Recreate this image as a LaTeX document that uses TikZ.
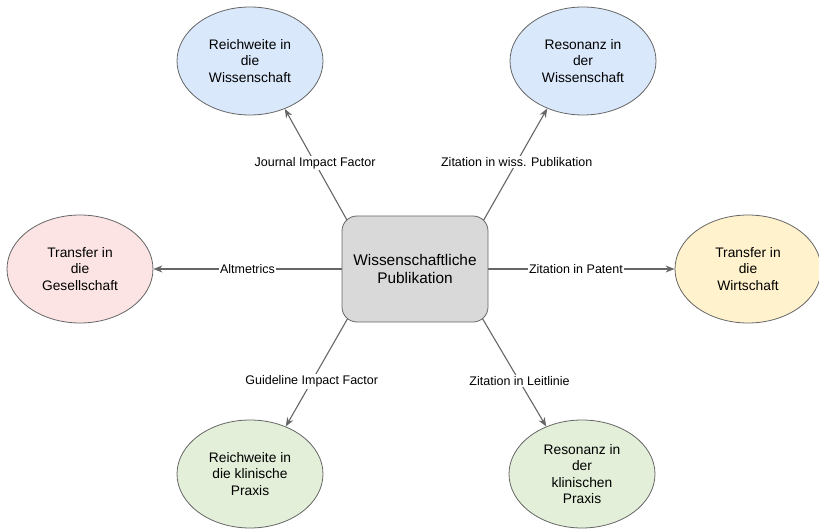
\documentclass[tikz,border=0pt]{standalone}
\usepackage{fontspec}
\setmainfont{Liberation Sans}
\usetikzlibrary{shapes.geometric,arrows.meta,backgrounds}

\definecolor{linegray}{HTML}{666666}
\definecolor{boxgray}{HTML}{D9D9D9}
\definecolor{lightblue}{HTML}{DAE8FC}
\definecolor{lightred}{HTML}{FCE4E4}
\definecolor{lightyellow}{HTML}{FFF2CC}
\definecolor{lightgreen}{HTML}{E3EFD9}

\begin{document}
\begin{tikzpicture}[x=1pt,y=1pt,>={Stealth[length=9pt,width=7pt]}]
            \useasboundingbox (0,0) rectangle (819,528);

            \node (pub)[draw=linegray,fill=boxgray,line width=0.8pt,rounded corners=15pt,
                minimum width=146pt,minimum height=106pt,align=center,
                font=\fontsize{15.4}{17.7}\selectfont] at (415,259) {Wissenschaftliche\\Publikation};

            \begin{scope}[every node/.style={ellipse,draw=linegray,line width=0.8pt,
                minimum width=146pt,minimum height=108pt,inner sep=2pt,align=center,
                font=\fontsize{13.8}{16.6}\selectfont}]
                \node (rw)[fill=lightblue] at (250,467) {Reichweite in\\die\\Wissenschaft};
                \node (rsw)[fill=lightblue] at (583,467) {Resonanz in\\der\\Wissenschaft};
                \node (tg)[fill=lightred] at (80,259) {Transfer in\\die\\Gesellschaft};
                \node (tw)[fill=lightyellow] at (748,259) {Transfer in\\die\\Wirtschaft};
                \node (rk)[fill=lightgreen] at (250,54) {Reichweite in\\die klinische\\Praxis};
                \node (rkp)[fill=lightgreen] at (582,54) {Resonanz in\\der\\klinischen\\Praxis};
            \end{scope}

            \begin{scope}[on background layer,
                every edge/.style={draw=linegray,line width=1.1pt},
                every node/.style={fill=white,text=black,inner sep=1.5pt,font=\fontsize{12.5}{15}\selectfont}]
                \path [->] ([shift={(9,-11)}]pub.north west) edge node[pos=0.54] {Journal Impact Factor} (rw.-54);
                \path [->] ([shift={(-9,-12)}]pub.north east) edge node[pos=0.55] {Zitation in wiss. Publikation} (rsw.-127);
                \path [->] (pub.west) edge node {Altmetrics} (tg.east);
                \path [->] (pub.east) edge node[pos=0.47] {Zitation in Patent} (tw.west);
                \path [->] ([shift={(9,9)}]pub.south west) edge node[pos=0.6] {Guideline Impact Factor} (rk.53);
                \path [->] ([shift={(-9,9)}]pub.south east) edge node[pos=0.6] {Zitation in Leitlinie} (rkp.127);
            \end{scope}
            \end{tikzpicture}
\end{document}
